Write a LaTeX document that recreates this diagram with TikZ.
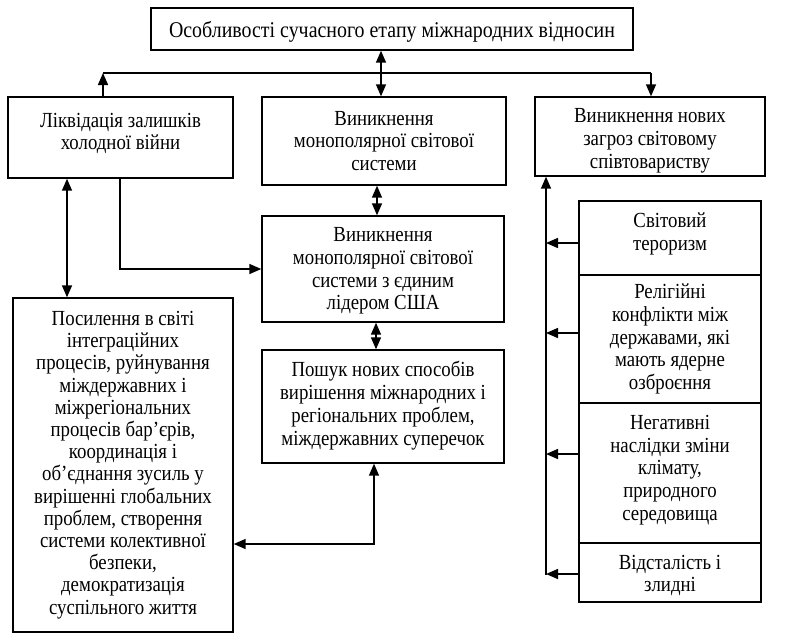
\documentclass[tikz,border=0pt]{standalone}
\usepackage{fontspec}
\setmainfont{Liberation Serif}
\newfontfamily\bodyfont[FakeStretch=0.875]{Liberation Serif}
\newfontfamily\headfont[FakeStretch=0.885]{Liberation Serif}
\usetikzlibrary{arrows.meta,fit}
\begin{document}
\begin{tikzpicture}[x=1pt,y=-1pt,
  box/.style={draw, line width=1.4pt, inner sep=0pt},
  txt/.style={inner sep=0pt, align=center, font=\bodyfont\fontsize{21.5}{22.8}\selectfont},
  conn/.style={line width=1.5pt},
  arr/.style={conn, -{Triangle[length=12pt,width=10pt]}},
  dbl/.style={conn, {Triangle[length=12pt,width=10pt]}-{Triangle[length=12pt,width=10pt]}}]
\useasboundingbox (0,0) rectangle (798,633);
% boxes
\node[box, fit={(151,8) (633,50)}] (top) {};
\node[box, fit={(8,97) (233,178)}] (lq) {};
\node[box, fit={(262,97) (506,185)}] (m1) {};
\node[box, fit={(535,97) (765,176)}] (rt) {};
\node[box, fit={(262,216) (504,322)}] (m2) {};
\node[box, fit={(262,350) (504,463)}] (m3) {};
\node[box, fit={(13,298) (233,632)}] (big) {};
\node[box, fit={(579,201) (761,275)}] (r1) {};
\node[box, fit={(579,275) (761,403)}] (r2) {};
\node[box, fit={(579,403) (761,543)}] (r3) {};
\node[box, fit={(579,543) (761,602)}] (r4) {};
% texts
\node[txt, font=\headfont\fontsize{22.5}{24}\selectfont, yshift=-3pt] (topT) at (top.center) {Особливості сучасного етапу міжнародних відносин};
\node[txt, yshift=4pt] (lqT) at (lq.center) {Ліквідація залишків\\холодної війни};
\node[txt, yshift=0pt] (m1T) at (m1.center) {Виникнення\\монополярної світової\\системи};
\node[txt, yshift=-4pt] (rtT) at (rt.center) {Виникнення нових\\загроз світовому\\співтовариству};
\node[txt, yshift=-2pt] (m2T) at (m2.center) {Виникнення\\монополярної світової\\системи з єдиним\\лідером США};
\node[txt, yshift=1pt] (m3T) at (m3.center) {Пошук нових способів\\вирішення міжнародних і\\регіональних проблем,\\міждержавних суперечок};
\node[txt, font=\bodyfont\fontsize{21.5}{22.2}\selectfont, yshift=0pt] (bigT) at (big.center) {Посилення в світі\\інтеграційних\\процесів, руйнування\\міждержавних і\\міжрегіональних\\процесів бар’єрів,\\координація і\\об’єднання зусиль у\\вирішенні глобальних\\проблем, створення\\системи колективної\\безпеки,\\демократизація\\суспільного життя};
\node[txt, yshift=4pt] (r1T) at (r1.center) {Світовий\\тероризм};
\node[txt, yshift=0pt] (r2T) at (r2.center) {Релігійні\\конфлікти між\\державами, які\\мають ядерне\\озброєння};
\node[txt, yshift=3pt] (r3T) at (r3.center) {Негативні\\наслідки зміни\\клімату,\\природного\\середовища};
\node[txt, yshift=-3pt] (r4T) at (r4.center) {Відсталість і\\злидні};
% helper coordinates
\coordinate (hl) at (103,73);
\coordinate (hr) at (651,73);
\coordinate (cm) at (381,73);
\coordinate (ca) at (67,0);
\coordinate (cb) at (120,269);
\coordinate (cc) at (377,0);
\coordinate (cd) at (376,0);
\coordinate (ce) at (374,544);
\coordinate (vl) at (546,0);
\coordinate (vb) at (546,575);
\coordinate (y1) at (0,243);
\coordinate (y2) at (0,333);
\coordinate (y3) at (0,454);
\coordinate (y4) at (0,574);
% connectors top
\draw[dbl] (top.south -| cm) -- (m1.north -| cm);
\draw[arr] (lq.north -| hl) -- (hl);
\draw[conn] (hl) -- (hr);
\draw[arr] (hr) -- (rt.north -| hr);
% left
\draw[dbl] (lq.south -| ca) -- (big.north -| ca);
\draw[arr] (lq.south -| cb) -- (cb) -- (m2.west |- cb);
\draw[dbl] (m1.south -| cc) -- (m2.north -| cc);
\draw[dbl] (m2.south -| cd) -- (m3.north -| cd);
\draw[dbl] (big.east |- ce) -- (ce) -- (m3.south -| ce);
% right
\draw[arr] (vb) -- (rt.south -| vb);
\draw[arr] (r1.west |- y1) -- (vl |- y1);
\draw[arr] (r2.west |- y2) -- (vl |- y2);
\draw[arr] (r3.west |- y3) -- (vl |- y3);
\draw[arr] (r4.west |- y4) -- (vl |- y4);
\end{tikzpicture}
\end{document}
